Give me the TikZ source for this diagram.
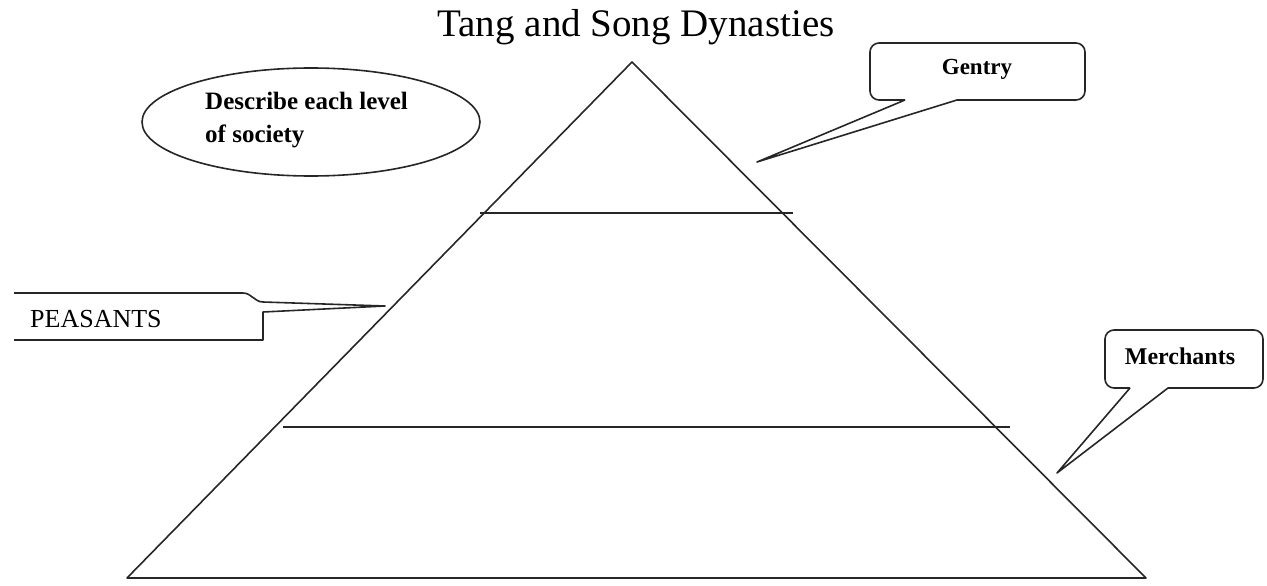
\documentclass[tikz,border=0pt]{standalone}
\usepackage{fontspec}
\setmainfont{Liberation Serif}
\usetikzlibrary{shapes.geometric}
\begin{document}
\begin{tikzpicture}[x=1pt,y=-1pt,
  line/.style={draw=black!85,line width=1.6pt,line join=round},
  callout/.style={draw=black!85,line width=1.6pt,line join=round},
  lbl/.style={inner sep=0pt,font=\bfseries\fontsize{23}{26}\selectfont}]
\useasboundingbox (0,0) rectangle (1267,586);
% title
\node[inner sep=0pt,anchor=base,font=\fontsize{39}{44}\selectfont] (title) at (636,37) {Tang and Song Dynasties};
% pyramid
\coordinate (apex) at (632,62);
\coordinate (bl) at (127,578);
\coordinate (br) at (1146,578);
\coordinate (l1a) at (480,213);
\coordinate (l1b) at (793,213);
\coordinate (l2a) at (283,427);
\coordinate (l2b) at (1010,427);
\draw[line] (bl) -- (apex) -- (br) -- cycle;
\draw[line] (l1a) -- (l1b);
\draw[line] (l2a) -- (l2b);
% ellipse
\node[draw=black!85,line width=1.6pt,ellipse,minimum width=338pt,minimum height=108pt] (desc) at (311,122) {};
\node[inner sep=0pt,anchor=base west,font=\bfseries\fontsize{25}{28}\selectfont] (desc1) at (205,110) {Describe each level};
\node[inner sep=0pt,anchor=base west,font=\bfseries\fontsize{25}{28}\selectfont] (desc2) at (205,142) {of society};
% Gentry callout
\coordinate (gtip) at (757,162);
\draw[callout] (905,100) -- (gtip) -- (957,100) [rounded corners=9pt] -- (1085,100) -- (1085,43) -- (870,43) -- (870,100) -- (905,100);
\node[lbl,anchor=base] (gentry) at (977,75) {Gentry};
% Merchants callout
\coordinate (mtip) at (1057,473);
\draw[callout] (1130,388) -- (mtip) -- (1168,388) [rounded corners=9pt] -- (1263,388) -- (1263,330) -- (1105,330) -- (1105,388) -- (1130,388);
\node[lbl,anchor=base,font=\bfseries\fontsize{24}{27}\selectfont] (merch) at (1180,364) {Merchants};
% Peasants callout
\coordinate (ptip) at (385,306);
\draw[callout] (14,293) -- (243,293) to[out=0,in=180] (263,302) -- (ptip) -- (263,312) -- (263,340) -- (14,340);
\node[inner sep=0pt,anchor=base west,font=\fontsize{26}{30}\selectfont] (peas) at (30,327) {PEASANTS};
\end{tikzpicture}
\end{document}
